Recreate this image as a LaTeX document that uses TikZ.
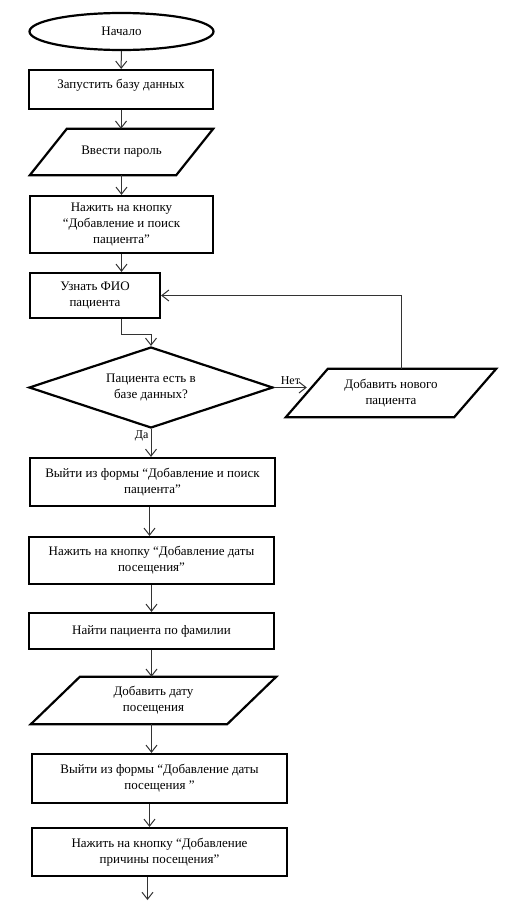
\documentclass[tikz,border=0pt]{standalone}
\usepackage{fontspec}
\setmainfont{Liberation Serif}
\usetikzlibrary{shapes.geometric,arrows.meta,calc}
\newcommand{\ioshape}[2]{%
  \draw[line width=2.2pt, line join=miter]
    ($(#1.south west)+(-#2,0)$) -- ($(#1.north west)+(#2,0)$) --
    ($(#1.north east)+(#2,0)$) -- ($(#1.south east)+(-#2,0)$) -- cycle;}
\begin{document}
\begin{tikzpicture}[x=1pt,y=-1pt,
  every node/.style={font=\fontsize{13}{16}\selectfont},
  box/.style={draw, line width=2.2pt, rectangle, inner sep=0pt, align=center},
  term/.style={draw, line width=2.2pt, ellipse, inner sep=0pt},
  iobody/.style={rectangle, inner sep=0pt, align=center},
  dec/.style={draw, line width=2.2pt, diamond, aspect=3, inner sep=0pt, align=center},
  arr/.style={line width=1pt, draw=black!80, -{Straight Barb[length=7pt,width=11pt]}},
  lbl/.style={font=\fontsize{12}{14}\selectfont, inner sep=2pt}
]
\useasboundingbox[fill=white] (0,0) rectangle (507,916);

\node[term, minimum width=184pt, minimum height=37pt] (start) at (121.5,31.5) {Начало};
\node[box, minimum width=184pt, minimum height=39pt] (b1) at (121,89.5) {\raisebox{11pt}{Запустить базу данных}};
\node[iobody, minimum width=146pt, minimum height=46pt] (p1) at (121.5,152) {Ввести пароль};
\ioshape{p1}{18.5pt}
\node[box, minimum width=183pt, minimum height=57pt] (b2) at (121.5,224.5) {Нажить на кнопку\\“Добавление и поиск\\пациента”};
\node[box, minimum width=130pt, minimum height=45pt] (b3) at (95,295.5) {Узнать ФИО\\пациента};
\node[dec, minimum width=244pt, minimum height=81pt] (d) at (151,387.5) {Пациента есть в\\базе данных?};
\node[iobody, minimum width=168pt, minimum height=48pt] (p2) at (391,393) {Добавить нового\\пациента};
\ioshape{p2}{21pt}
\node[box, minimum width=245pt, minimum height=48pt] (b4) at (152.5,482) {Выйти из формы “Добавление и поиск\\пациента”};
\node[box, minimum width=245pt, minimum height=47pt] (b5) at (151.5,560.5) {Нажить на кнопку “Добавление даты\\посещения”};
\node[box, minimum width=245pt, minimum height=36pt] (b6) at (151.5,631) {Найти пациента по фамилии};
\node[iobody, minimum width=196pt, minimum height=47pt] (p3) at (153.5,700.5) {Добавить дату\\посещения};
\ioshape{p3}{24.5pt}
\node[box, minimum width=255pt, minimum height=49pt] (b7) at (159.5,778.5) {Выйти из формы “Добавление даты\\посещения ”};
\node[box, minimum width=255pt, minimum height=48pt] (b8) at (159.5,852) {Нажить на кнопку “Добавление\\причины посещения”};
\coordinate (end) at (147.5,900);

\draw[arr] (start) -- (b1);
\draw[arr] (b1.south) -- (b1.south |- p1.north);
\draw[arr] (b2.north |- p1.south) -- (b2.north);
\draw[arr] (b2.south) -- (b2.south |- b3.north);
\draw[arr] (b3.south -| b2.south) -- ++(0,15) -| (d.north);
\draw[arr] (d.east) -- (d.east -| p2.west) node[lbl, midway, above] {Нет};
\path (p2.center) ++(10,0) coordinate (lp);
\draw[arr] (lp |- p2.north) |- (b3.east);
\draw[arr] (d.south) -- (d.south |- b4.north) node[lbl, pos=0.25, left] {Да};
\draw[arr] ([xshift=-3pt]b4.south) -- ([xshift=-3pt]b4.south |- b5.north);
\draw[arr] (b5) -- (b6);
\draw[arr] (b6.south) -- (b6.south |- p3.north);
\draw[arr] (b6.south |- p3.south) -- (b6.south |- b7.north);
\draw[arr] ([xshift=-10pt]b7.south) -- ([xshift=-10pt]b8.north);
\draw[arr] (b8.south -| end) -- (end);
\end{tikzpicture}
\end{document}
